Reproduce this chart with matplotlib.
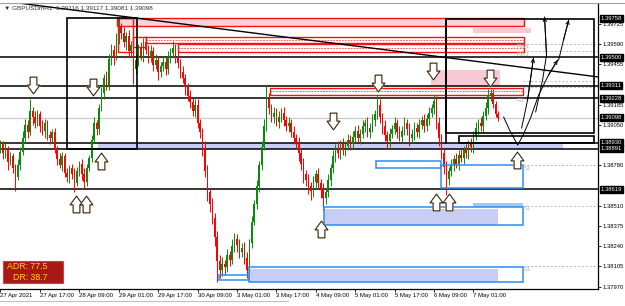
import numpy as np
import matplotlib.pyplot as plt
from matplotlib.patches import Rectangle
from matplotlib.path import Path

plt.rcParams['font.family'] = ['Liberation Sans', 'DejaVu Sans']

# -----------------------------
# price data (GBPUSD H1), one close per bar
# -----------------------------
closes = [
    1.3892, 1.3886, 1.3889, 1.3880, 1.3884, 1.3876, 1.3870, 1.3878, 1.3887, 1.3896,
    1.3905, 1.3900, 1.3914, 1.3910, 1.3906, 1.3912, 1.3904, 1.3901, 1.3906, 1.3898,
    1.3896, 1.3900, 1.3889, 1.3882, 1.3878, 1.3884, 1.3873, 1.3870, 1.3876, 1.3872,
    1.3866, 1.3874, 1.3879, 1.3872, 1.3867, 1.3876, 1.3883, 1.3895, 1.3906, 1.3902,
    1.3916, 1.3926, 1.3936, 1.3931, 1.3949, 1.3955, 1.3950, 1.3962, 1.3970, 1.3966,
    1.3960, 1.3964, 1.3954, 1.3958, 1.3942, 1.3948, 1.3956, 1.3951, 1.3960, 1.3955,
    1.3950, 1.3954, 1.3945, 1.3948, 1.3940, 1.3944, 1.3947, 1.3942, 1.3950, 1.3953,
    1.3956, 1.3950, 1.3946, 1.3940, 1.3936, 1.3930, 1.3924, 1.3920, 1.3914, 1.3918,
    1.3906, 1.3900, 1.3889, 1.3874, 1.3860, 1.3852, 1.3843, 1.3830, 1.3814, 1.3808,
    1.3812, 1.3810, 1.3818, 1.3815, 1.3824, 1.3829, 1.3825, 1.3820, 1.3823, 1.3816,
    1.3808, 1.3826, 1.3840, 1.3852, 1.3864, 1.3878, 1.3890, 1.3904, 1.3922, 1.3916,
    1.3910, 1.3913, 1.3907, 1.3910, 1.3913, 1.3908, 1.3904, 1.3906, 1.3900, 1.3896,
    1.3893, 1.3886, 1.3879, 1.3872, 1.3868, 1.3864, 1.3861, 1.3867, 1.3872, 1.3866,
    1.3862, 1.3856, 1.3860, 1.3868, 1.3876, 1.3884, 1.3889, 1.3886, 1.3892, 1.3888,
    1.3891, 1.3895, 1.3892, 1.3897, 1.3901, 1.3896, 1.3899, 1.3904, 1.3906, 1.3900,
    1.3903, 1.3908, 1.3912, 1.3918, 1.3910, 1.3904, 1.3898, 1.3894, 1.3899, 1.3902,
    1.3906, 1.3900, 1.3897, 1.3901, 1.3906, 1.3902, 1.3896, 1.3899, 1.3903, 1.3900,
    1.3905, 1.3908, 1.3904, 1.3909, 1.3913, 1.3916, 1.3921, 1.3906, 1.3896, 1.3886,
    1.3877, 1.3869, 1.3874, 1.3878, 1.3882, 1.3879, 1.3885, 1.3883, 1.3888, 1.3886,
    1.3892, 1.3890, 1.3898, 1.3903, 1.3906, 1.3904, 1.3911, 1.3916, 1.3924, 1.3926,
    1.3919, 1.3912, 1.39098,
]
first_open = 1.3888

# wick lengths in pips above / below the body
up_wick = [
    3, 2, 4, 2, 3, 2, 3, 4, 3, 5,  4, 3, 8, 3, 4, 3, 2, 4, 3, 2,
    3, 2, 3, 2, 4, 3, 2, 3, 2, 3,  4, 3, 2, 3, 4, 3, 2, 3, 4, 2,
    3, 4, 3, 5, 3, 4, 3, 4, 6, 3,  4, 3, 4, 3, 5, 4, 3, 4, 3, 4,
    3, 4, 3, 4, 3, 3, 4, 3, 4, 3,  5, 3, 4, 3, 4, 3, 3, 4, 3, 4,
    4, 3, 3, 5, 4, 3, 4, 3, 4, 4,  5, 3, 4, 3, 5, 4, 3, 4, 3, 4,
    4, 3, 4, 3, 4, 3, 4, 5, 9, 4,  3, 4, 3, 4, 3, 4, 3, 4, 3, 4,
    3, 4, 3, 4, 3, 4, 3, 4, 3, 4,  3, 4, 3, 4, 3, 4, 3, 5, 3, 4,
    3, 4, 3, 4, 3, 4, 3, 4, 3, 4,  3, 4, 3, 7, 4, 3, 4, 3, 4, 3,
    4, 3, 4, 3, 4, 3, 4, 3, 4, 3,  4, 3, 4, 3, 4, 3, 4, 3, 4, 3,
    3, 4, 3, 4, 3, 4, 3, 4, 3, 4,  3, 4, 3, 4, 3, 4, 3, 4, 5, 3,
    3, 2, 2,
]
dn_wick = [
    2, 4, 3, 5, 2, 3, 9, 2, 3, 2,  3, 4, 2, 5, 3, 2, 4, 3, 5, 3,
    4, 3, 3, 4, 2, 4, 3, 3, 4, 3,  6, 2, 3, 4, 5, 3, 2, 3, 2, 4,
    3, 2, 4, 3, 3, 4, 5, 2, 3, 4,  3, 5, 4, 3, 10, 3, 4, 3, 4, 3,
    4, 3, 4, 3, 5, 3, 3, 4, 3, 4,  3, 4, 3, 4, 3, 5, 3, 4, 3, 4,
    3, 4, 5, 4, 6, 5, 4, 6, 14, 5,  4, 5, 3, 4, 3, 4, 5, 4, 3, 4,
    5, 2, 3, 2, 3, 4, 3, 2, 3, 4,  3, 4, 3, 4, 3, 4, 3, 4, 3, 4,
    4, 5, 4, 6, 4, 5, 6, 4, 5, 4,  6, 8, 4, 3, 4, 3, 4, 3, 4, 3,
    4, 3, 4, 3, 4, 3, 4, 3, 4, 3,  4, 3, 4, 3, 4, 5, 4, 5, 4, 3,
    3, 4, 3, 4, 3, 4, 5, 3, 4, 3,  4, 3, 4, 3, 4, 3, 4, 4, 5, 4,
    5, 11, 4, 3, 4, 3, 4, 3, 4, 3,  4, 3, 4, 3, 4, 3, 4, 3, 4, 3,
    3, 2, 2,
]

date_labels = ["27 Apr 2021", "27 Apr 17:00", "28 Apr 09:00", "29 Apr 01:00",
               "29 Apr 17:00", "30 Apr 09:00", "3 May 01:00", "3 May 17:00",
               "4 May 09:00", "5 May 01:00", "5 May 17:00", "6 May 09:00",
               "7 May 01:00"]
date_bars = [0, 16, 32, 48, 64, 80, 96, 112, 128, 144, 160, 176, 192]

grid_prices = [1.39725, 1.39590, 1.39455, 1.39185, 1.39050, 1.38780,
               1.38510, 1.38375, 1.38240, 1.38105, 1.37970]
level_prices = [1.39758, 1.39500, 1.39311, 1.39228, 1.39098, 1.38930, 1.38891, 1.38619]
black_lines = [1.39500, 1.39311, 1.39228, 1.38930, 1.38891, 1.38619]
pivot_lines = [1.39590, 1.39540, 1.39340, 1.39305, 1.38780, 1.38510, 1.38105]

# zones: (start bar, end bar, low, high)
black_boxes = [(27.2, 55.6, 1.38891, 1.39765), (180.7, 240.8, 1.38995, 1.39758),
               (186.0, 240.8, 1.38930, 1.38975)]
red_boxes = [(47.5, 212.4, 1.39710, 1.39765), (58.9, 212.4, 1.39596, 1.39636),
             (71.9, 212.4, 1.39536, 1.39589), (109.6, 212.0, 1.39249, 1.39296),
             (47.9, 54.0, 1.39536, 1.39765), (54.0, 58.9, 1.39569, 1.39636)]
pink_boxes = [(174.6, 203.0, 1.39309, 1.39416), (181.5, 202.2, 1.39716, 1.39736),
              (191.7, 215.2, 1.39662, 1.39696)]
blue_boxes = [(152.3, 178.7, 1.38762, 1.38809), (178.7, 212.0, 1.38628, 1.38782),
              (131.2, 212.0, 1.38382, 1.38502), (88.9, 100.7, 1.38015, 1.38048),
              (100.7, 212.0, 1.38001, 1.38101)]
lavender_boxes = [(39.4, 228.2, 1.38891, 1.38930), (131.2, 202.2, 1.38382, 1.38490),
                  (100.7, 202.2, 1.38001, 1.38090), (191.7, 212.0, 1.38502, 1.38529)]

down_arrows = [(13.4, 1.39316), (37.4, 1.39300), (135.2, 1.39075), (153.1, 1.39329),
               (175.6, 1.39410), (198.6, 1.39362)]
up_arrows = [(41.0, 1.38808), (30.5, 1.38521), (34.9, 1.38521), (130.0, 1.38355),
             (177.0, 1.38535), (182.3, 1.38535), (209.8, 1.38815)]

# hand drawn scenario strokes (bar, price)
strokes = [
    [(204.3, 1.39102), (206.7, 1.39015), (210.0, 1.38915), (212.4, 1.38989),
     (215.2, 1.39096), (218.5, 1.39249), (222.5, 1.39382), (226.2, 1.39482)],
    [(211.6, 1.39029), (214.0, 1.39216), (216.4, 1.39496)],
    [(217.3, 1.39136), (220.1, 1.39349), (221.7, 1.39516), (220.9, 1.39769)],
    [(226.6, 1.39482), (228.6, 1.39616), (230.7, 1.39749)],
]

# -----------------------------
# figure
# -----------------------------
fig = plt.figure(figsize=(6.25, 3.06), dpi=100)
ax = fig.add_axes([0, 1 - 289 / 306, 598 / 625, 286 / 306])
ax.set_xlim(-0.2, 242.6)
ax.set_ylim(1.379547, 1.39863)

pip = 0.0001
n = len(closes)
x = np.arange(n)
c = np.array(closes)
o = np.array([first_open] + closes[:-1])
hi = np.maximum(o, c) + np.array(up_wick[:n]) * pip
lo = np.minimum(o, c) - np.array(dn_wick[:n]) * pip
cols = np.where(c >= o, '#0a8a0a', '#ff0000')

# zones underneath candles
for x0, x1, p0, p1 in lavender_boxes:
    fc = '#a8c8f0' if p1 - p0 < 0.0003 and x0 > 190 else '#c7cdf4'
    ax.add_patch(Rectangle((x0, p0), x1 - x0, p1 - p0, fc=fc, ec='none', zorder=1))
for x0, x1, p0, p1 in pink_boxes:
    ax.add_patch(Rectangle((x0, p0), x1 - x0, p1 - p0, fc='#f8c8d4', ec='none', zorder=1))
ax.add_patch(Rectangle((47.5, 1.39710), 164.9, 0.00055, fc='#fbd0d8', ec='none', zorder=1))

ax.axhline(1.39098, color='#c8c8c8', lw=0.8, zorder=1)
for p in black_lines:
    ax.axhline(p, color='black', lw=1.1, zorder=2)
for p in pivot_lines:
    ax.plot([212, 243], [p, p], color='#b8b8b8', lw=0.7, ls=(0, (2, 2)), zorder=2)

# candles
ax.vlines(x, lo, hi, colors=cols, lw=0.7, zorder=3)
body = np.maximum(np.abs(c - o), 0.00003)
ax.bar(x, body, bottom=np.minimum(o, c), width=0.6, color=cols, lw=0, zorder=3)

for x0, x1, p0, p1 in red_boxes:
    ax.add_patch(Rectangle((x0, p0), x1 - x0, p1 - p0, fc='none', ec='#ff1010', lw=1.0, zorder=4))
for x0, x1, p0, p1 in red_boxes[1:4]:
    mid = (p0 + p1) / 2
    ax.plot([x0, x1], [mid, mid], color='#ff4040', lw=0.6, ls=(0, (2, 1.5)), zorder=4)
for x0, x1, p0, p1 in blue_boxes:
    ax.add_patch(Rectangle((x0, p0), x1 - x0, p1 - p0, fc='none', ec='#2a8ef0', lw=1.1, zorder=4))
for x0, x1, p0, p1 in black_boxes:
    ax.add_patch(Rectangle((x0, p0), x1 - x0, p1 - p0, fc='none', ec='black', lw=1.2, zorder=5))
ax.plot([180.7, 180.7], [1.38930, 1.39758], color='black', lw=1.2, zorder=5)
ax.plot([-1, 243], [1.39880, 1.39369], color='black', lw=1.0, zorder=5)

for pts in strokes:
    xs, ys = zip(*pts)
    ax.plot(xs, ys, color='black', lw=0.7, zorder=6)
    ax.annotate('', xy=pts[-1], xytext=pts[-2],
                arrowprops=dict(arrowstyle='->', lw=0.7, color='black',
                                mutation_scale=6, shrinkA=0, shrinkB=0), zorder=6)

# pivot tags
for lbl, bx, p in [("RW1", 209.5, 1.39575), ("RW1", 209.5, 1.39520), ("R1", 209.5, 1.39215),
                   ("S1", 212.5, 1.38760), ("S1", 212.5, 1.38490), ("S1", 212.5, 1.38085)]:
    ax.text(bx, p, lbl, fontsize=4.3, color='#b8b8b8', va='center', zorder=6)

# signal arrows
dpath = Path([(-0.2, 0.5), (0.2, 0.5), (0.2, 0.02), (0.38, 0.02), (0, -0.5),
              (-0.38, 0.02), (-0.2, 0.02), (-0.2, 0.5)])
upath = Path([(vx, -vy) for vx, vy in dpath.vertices])
for pts, mk in [(down_arrows, dpath), (up_arrows, upath)]:
    ax_, ay_ = zip(*pts)
    ax.plot(ax_, ay_, ls='none', marker=mk, ms=12, mfc='white', mec='#f2b860',
            mew=1.1, zorder=7)
    ax.plot(ax_, ay_, ls='none', marker=mk, ms=12, mfc='white', mec='#202020',
            mew=0.7, zorder=8)

# axes styling
for s in ['left', 'top']:
    ax.spines[s].set_visible(False)
for s in ['right', 'bottom']:
    ax.spines[s].set_linewidth(0.9)
ax.set_xticks(date_bars)
ax.set_xticklabels(date_labels, fontsize=4.3, ha='left')
ax.tick_params(axis='x', length=2, width=0.6, pad=1)
ax.yaxis.tick_right()
ax.set_yticks(grid_prices)
ax.set_yticklabels([f"{p:.5f}" for p in grid_prices], fontsize=4.2)
ax.tick_params(axis='y', length=2, width=0.6, pad=1.5)
for p in level_prices:
    ax.text(1.004, p, f"{p:.5f}", transform=ax.get_yaxis_transform(), fontsize=4.2,
            color='white', va='center', ha='left', zorder=10, clip_on=False,
            bbox=dict(boxstyle='square,pad=0.15', fc='black', ec='black'))

ax.text(0.007, 0.982, "\u25bc GBPUSDmH1  1.39116 1.39117 1.39081 1.39098",
        transform=ax.transAxes, fontsize=4.6, color='#303030', va='center', zorder=10)

# ADR panel
ax.add_patch(Rectangle((0.005, 0.021), 0.1, 0.077, transform=ax.transAxes,
                       fc='#a81818', ec='#d04040', lw=0.8, zorder=10))
ax.text(0.012, 0.078, "ADR: 77.5", transform=ax.transAxes, fontsize=6.3,
        color='#ffd800', va='center', zorder=11)
ax.text(0.022, 0.040, "DR: 38.7", transform=ax.transAxes, fontsize=6.3,
        color='#ffd800', va='center', zorder=11)

fig.add_artist(plt.Line2D([0, 1], [1 - 3 / 306, 1 - 3 / 306], color='#a0a0a0', lw=0.8))
fig.add_artist(plt.Line2D([0, 0.46], [1 - 301 / 306, 1 - 301 / 306], color='#c0c0c0', lw=0.8))

fig.savefig("out.png", dpi=100)
